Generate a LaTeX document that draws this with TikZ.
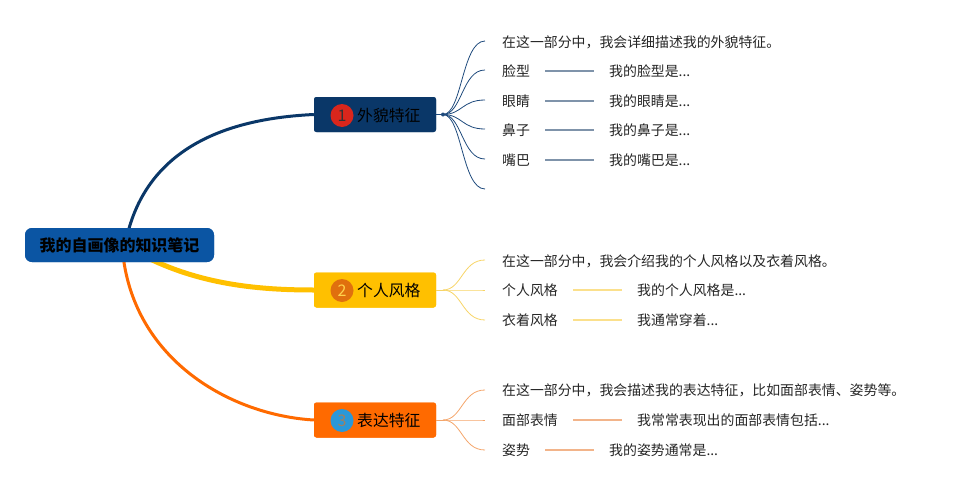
\documentclass[tikz,border=0pt]{standalone}
\usepackage{fontspec}
\setmainfont{Noto Sans CJK SC}
\begin{document}
\begin{tikzpicture}[x=1pt,y=-1pt,
  rootbox/.style={fill=root,rounded corners=7pt,minimum width=189pt,minimum height=34pt,inner sep=0pt,font=\fontsize{16}{18}\selectfont\bfseries,text=black},
  topicbox/.style={rounded corners=2.5pt,minimum width=122pt,minimum height=35pt,inner sep=0pt},
  numc/.style={circle,minimum size=23pt,inner sep=0pt,font=\fontsize{16}{17}\selectfont},
  ttext/.style={anchor=west,inner sep=0pt,font=\fontsize{15.8}{17}\selectfont,text=black},
  sub/.style={anchor=west,inner sep=0pt,font=\fontsize{13.9}{15}\selectfont,text=black!85},
  fan/.style={line width=0.8pt},
  lab/.style={line width=1.3pt,shorten <=15pt,shorten >=15pt}]
\definecolor{root}{HTML}{0B55A3}
\definecolor{navy}{HTML}{0A3768}
\definecolor{yel}{HTML}{FFC000}
\definecolor{ora}{HTML}{FF6A00}
\definecolor{fanA}{HTML}{1E4A7C}
\definecolor{fanB}{HTML}{F7D466}
\definecolor{fanC}{HTML}{F4A56A}
\definecolor{labA}{HTML}{7F93AA}
\definecolor{labB}{HTML}{FBE08C}
\definecolor{labC}{HTML}{F2B48A}
\definecolor{cred}{HTML}{D9261C}
\definecolor{cora}{HTML}{E0700E}
\definecolor{cblue}{HTML}{2A98D8}
\useasboundingbox (0,0) rectangle (967,490);

% main branches (behind boxes)
\node[rootbox] (root) at (119.5,245) {};
\node[topicbox,fill=navy] (t1) at (375,114.5) {};
\node[topicbox,fill=yel] (t2) at (375,290) {};
\node[topicbox,fill=ora] (t3) at (375,420) {};

\draw[navy,line width=3pt] (127,236) .. controls (150,140) and (240,118) .. (t1.west);
\draw[yel,line width=5pt] (142,255) .. controls (200,285) and (260,290) .. (t2.west);
\draw[ora,line width=3pt] (123,255) .. controls (135,360) and (230,415) .. (t3.west);

\node[rootbox] at (root) {我的自画像的知识笔记};
\node[topicbox,fill=navy] at (t1) {};
\node[topicbox,fill=yel] at (t2) {};
\node[topicbox,fill=ora] at (t3) {};

\node[numc,fill=cred,text=black!80] (n1) at (342,115.5) {1};
\node[ttext] (l1) at (357,115) {外貌特征};
\node[numc,fill=cora,text=yel!70!white] (n2) at (342,290.5) {2};
\node[ttext] (l2) at (357,290) {个人风格};
\node[numc,fill=cblue,text=brown!50!gray] (n3) at (342,420.5) {3};
\node[ttext] (l3) at (357,420) {表达特征};

% topic 1 subtopics
\coordinate (b1) at (443,114.5);
\draw[fanA,fan] (t1.east) -- (b1);
\fill[fanA] (b1) circle (2pt);
\node[sub] (a0) at (502,42) {在这一部分中，我会详细描述我的外貌特征。};
\node[sub] (a1) at (502,71) {脸型};
\node[sub] (a2) at (502,101) {眼睛};
\node[sub] (a3) at (502,130) {鼻子};
\node[sub] (a4) at (502,160) {嘴巴};
\coordinate (a5) at (502,189);
\node[sub] (v1) at (609,71) {我的脸型是...};
\node[sub] (v2) at (609,101) {我的眼睛是...};
\node[sub] (v3) at (609,130) {我的鼻子是...};
\node[sub] (v4) at (609,160) {我的嘴巴是...};
\foreach \n/\y in {a0/41,a1/70,a2/100,a3/129,a4/159,a5/189}
  \draw[fanA,fan] (b1) .. controls (462,114.5) and (462,\y) .. (485,\y);
\foreach \i in {1,...,4}
  \draw[labA,lab] (a\i.east) -- (v\i.west);

% topic 2 subtopics
\coordinate (b2) at (443,290);
\draw[fanB,fan] (t2.east) -- (b2);
\node[sub] (c0) at (502,261) {在这一部分中，我会介绍我的个人风格以及衣着风格。};
\node[sub] (c1) at (502,290) {个人风格};
\node[sub] (c2) at (502,320) {衣着风格};
\node[sub] (w1) at (637,290) {我的个人风格是...};
\node[sub] (w2) at (637,320) {我通常穿着...};
\foreach \y in {260,290,320}
  \draw[fanB,fan] (b2) .. controls (462,290) and (462,\y) .. (485,\y);
\foreach \i in {1,2}
  \draw[labB,lab] (c\i.east) -- (w\i.west);

% topic 3 subtopics
\coordinate (b3) at (443,420);
\draw[fanC,fan] (t3.east) -- (b3);
\node[sub] (e0) at (502,390) {在这一部分中，我会描述我的表达特征，比如面部表情、姿势等。};
\node[sub] (e1) at (502,420) {面部表情};
\node[sub] (e2) at (502,450) {姿势};
\node[sub] (x1) at (637,420) {我常常表现出的面部表情包括...};
\node[sub] (x2) at (609,450) {我的姿势通常是...};
\foreach \y in {390,420,450}
  \draw[fanC,fan] (b3) .. controls (462,420) and (462,\y) .. (485,\y);
\foreach \i in {1,2}
  \draw[labC,lab] (e\i.east) -- (x\i.west);
\end{tikzpicture}
\end{document}
